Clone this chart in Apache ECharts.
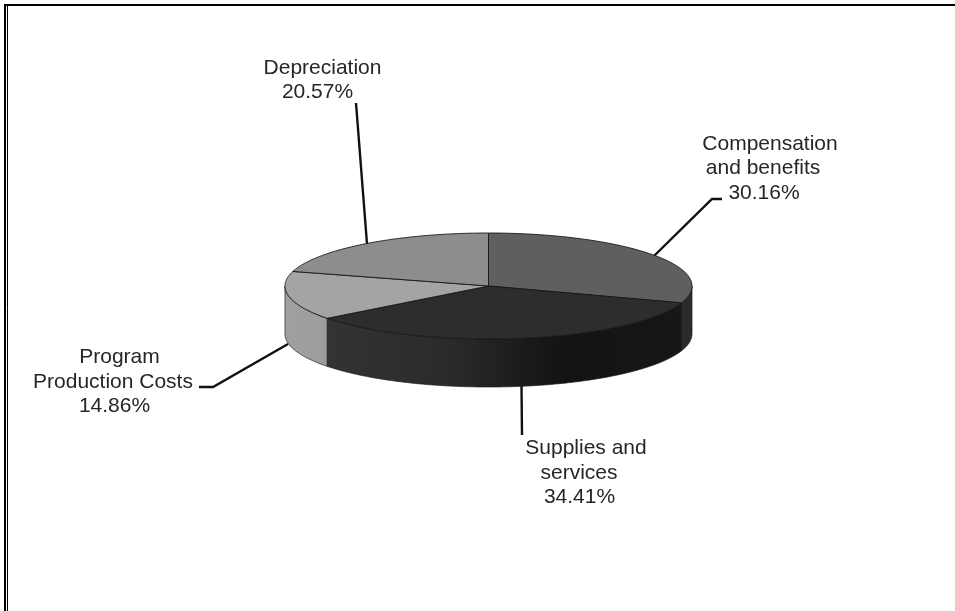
<!DOCTYPE html>
<html><head><meta charset="utf-8">
<style>html,body{margin:0;padding:0;background:#fff}#c{width:955px;height:611px}</style>
<script src="https://cdn.jsdelivr.net/npm/echarts@6/dist/echarts.min.js"></script>
</head><body><div id="c"></div>
<script>
var categories = ['Compensation\nand benefits', 'Supplies and\nservices', 'Program\nProduction Costs', 'Depreciation'];
var values = [30.16, 34.41, 14.86, 20.57];
var topColors = ['#5f5f5f', '#2d2d2d', '#a4a4a4', '#8d8d8d'];
var sideColors = [
  ['#2b2b2b', '#2b2b2b'],
  ['#333333', '#2b2b2b', '#131313', '#171717'],
  ['#a0a0a0', '#9c9c9c'],
  ['#6a6a6a', '#6a6a6a']
];
var labelX = [[770, 763, 764], [586, 579, 579.5], [119.5, 113, 114.5], [322.5, 317.5]];
var labelY = [[144, 168, 193], [448, 473, 497], [357, 382, 406], [68, 92]];
var leaders = [
  [[722, 199], [712, 199], [654, 256]],
  [[521.5, 386], [522, 435]],
  [[199, 387], [213, 387], [288, 344]],
  [[356, 103], [367, 244]]
];
var cx = 488.5, cy = 286, rx = 203.5, ry = 53, depth = 48;
var total = values.reduce(function (a, b) { return a + b; }, 0);

function pt(deg, dy) {
  var t = deg * Math.PI / 180;
  return [cx + rx * Math.sin(t), cy - ry * Math.cos(t) + (dy || 0)];
}
function arc(a, b, dy) {
  var out = [], n = Math.max(2, Math.ceil(Math.abs(b - a) * 2));
  for (var i = 0; i <= n; i++) out.push(pt(a + (b - a) * i / n, dy));
  return out;
}
function renderItem(params, api) {
  var idx = params.dataIndex, start = 0;
  for (var i = 0; i < idx; i++) start += values[i];
  var a = start / total * 360, b = (start + api.value(1)) / total * 360;
  var children = [];
  // leader line
  children.push({ type: 'polyline', silent: true, shape: { points: leaders[idx] },
    style: { fill: null, stroke: '#111', lineWidth: 2.4 } });
  // side wall: the visible front half only
  var s = Math.max(a, 90), e = Math.min(b, 270);
  if (e > s) {
    var x0 = pt(s)[0], x1 = pt(e)[0], stops = sideColors[idx];
    var top = arc(s, e, 0), bottom = arc(e, s, depth);
    children.push({ type: 'polygon', silent: true, shape: { points: top.concat(bottom) },
      style: {
        fill: { type: 'linear', x: x1, y: 0, x2: x0, y2: 0, global: true,
          colorStops: stops.map(function (c, k) { return { offset: k / (stops.length - 1), color: c }; }) },
        stroke: '#1a1a1a', lineWidth: 0.7 } });
  }
  // top face
  children.push({ type: 'polygon', silent: true, z2: 5,
    shape: { points: [[cx, cy]].concat(arc(a, b, 0)) },
    style: { fill: topColors[idx], stroke: '#161616', lineWidth: 0.9 } });
  // label, one text per line
  var lines = (categories[idx] + '\n' + api.value(1).toFixed(2) + '%').split('\n');
  lines.forEach(function (line, k) {
    children.push({ type: 'text', silent: true, z2: 10,
      style: { x: labelX[idx][k], y: labelY[idx][k], text: line,
        align: 'center', verticalAlign: 'middle',
        font: '21px "Liberation Sans", Arial, sans-serif', fill: '#262626' } });
  });
  return { type: 'group', children: children };
}
var chart = echarts.init(document.getElementById('c'), null, { renderer: 'canvas' });
chart.setOption({
  animation: false,
  backgroundColor: '#ffffff',
  graphic: [
    { type: 'line', shape: { x1: 4, y1: 5, x2: 955, y2: 5 }, style: { stroke: '#000', lineWidth: 2 } },
    { type: 'line', shape: { x1: 5, y1: 4, x2: 5, y2: 611 }, style: { stroke: '#000', lineWidth: 2 } },
    { type: 'line', shape: { x1: 7.5, y1: 6, x2: 7.5, y2: 611 }, style: { stroke: '#000', lineWidth: 1 } }
  ],
  series: [{
    type: 'custom',
    coordinateSystem: 'none',
    renderItem: renderItem,
    data: values.map(function (v, i) { return [i, v]; })
  }]
});
</script></body></html>
